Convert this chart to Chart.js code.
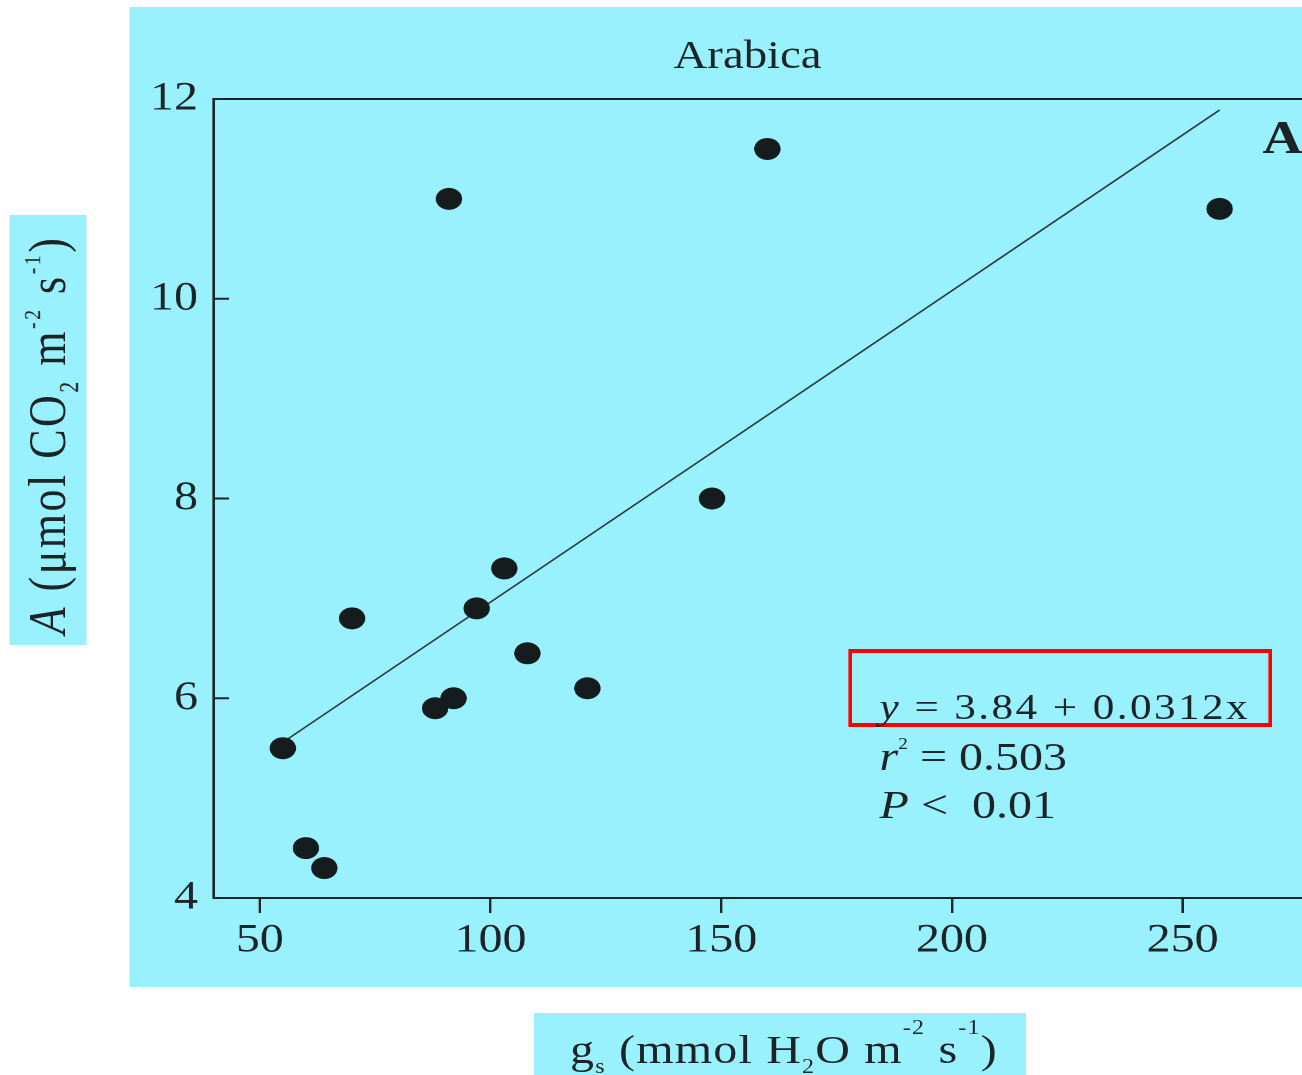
<!DOCTYPE html>
<html>
<head>
<meta charset="utf-8">
<script src="https://cdn.jsdelivr.net/npm/chart.js@4.4.1/dist/chart.umd.min.js"></script>
<style>
  html, body { margin: 0; padding: 0; overflow: hidden; background: #fff; }
  body { width: 1302px; height: 1075px; position: relative; }
  /* the source figure is stretched sideways, so the whole thing is drawn narrow and scaled */
  #wrap { position: absolute; left: 0; top: 0; width: 1085px; height: 1075px;
          transform: scaleX(1.2); transform-origin: 0 0;
          font-family: "Liberation Serif", "Times New Roman", serif; color: #1c2426; }
  .cyan { background: #99f1fd; }
  #panel { position: absolute; left: 107.5px; top: 7px; width: 1032px; height: 980px; }
  #ylab { position: absolute; left: 7.5px; top: 215px; width: 64px; height: 430px; }
  #ylabtext { position: absolute; left: 50%; top: 50%; white-space: nowrap; font-size: 44px; line-height: 1;
              letter-spacing: 2.5px; transform: translate(-50%, -50%) translateY(5px) rotate(-90deg); }
  #ylabtext .sup { font-size: 0.45em; top: -1.05em; }
  #xlab { position: absolute; left: 445px; top: 1013px; width: 410px; height: 70px; }
  #xlabtext { position: absolute; left: 30px; top: 16.5px; white-space: nowrap; font-size: 40px; line-height: 1;
              letter-spacing: 1px; }
  .sub { font-size: 0.5em; position: relative; top: 0.5em; }
  .sup { font-size: 0.5em; position: relative; top: -1.45em; }
  .sup2 { font-size: 0.4em; position: relative; top: -1.3em; }
  .txt { position: absolute; white-space: nowrap; line-height: 1; }
  #title { left: 523px; width: 200px; text-align: center; top: 34.5px; font-size: 39px; }
  #panelA { left: 1052px; top: 114.5px; font-size: 46px; font-weight: bold; }
  #box { position: absolute; left: 706.7px; top: 649px; width: 353.3px; height: 78px; box-sizing: border-box;
         border-style: solid; border-color: #ff0000; border-width: 4px 3.3px; }
  #eq1 { left: 733px; top: 689px; font-size: 36px; letter-spacing: 2px; }
  #eq2 { left: 733px; top: 736.5px; font-size: 40px; }
  #eq3 { left: 733px; top: 784.5px; font-size: 40px; }
</style>
</head>
<body>
<div id="wrap">
  <div id="ylab" class="cyan"><div id="ylabtext"><i>A</i> (μmol CO<span class="sub">2</span> m<span class="sup">-2</span> s<span class="sup">-1</span>)</div></div>
  <div id="panel" class="cyan"><canvas id="chart"></canvas></div>
  <div id="title" class="txt">Arabica</div>
  <div id="panelA" class="txt">A</div>
  <div id="box"></div>
  <div id="eq1" class="txt"><i>y</i> = 3.84 + 0.0312x</div>
  <div id="eq2" class="txt"><i>r</i><span class="sup2">2</span> = 0.503</div>
  <div id="eq3" class="txt"><i>P</i> &lt;&nbsp; 0.01</div>
  <div id="xlab" class="cyan"><div id="xlabtext">g<span class="sub">s</span> (mmol H<span class="sub">2</span>O m<span class="sup">-2</span> s<span class="sup">-1</span>)</div></div>
</div>
<script>
// stomatal conductance (x) vs net assimilation (y)
const gsValues = [55, 60, 64, 70, 88, 92, 97, 103, 108, 121, 91, 148, 160, 258];
const aValues = [5.5, 4.5, 4.3, 6.8, 5.9, 6.0, 6.9, 7.3, 6.45, 6.1, 11.0, 8.0, 11.5, 10.9];

// regression line end points
const fitX = [56, 258];
const fitY = [5.59, 11.89];

const xTicks = [50, 100, 150, 200, 250];
const yTicks = [4, 6, 8, 10, 12];

const ink = '#1c2426';

// top edge of the frame and the inward ticks on the left axis
const frame = {
  id: 'frame',
  afterDraw(chart) {
    const { ctx, chartArea } = chart;
    const y = chart.scales.y;
    ctx.save();
    ctx.strokeStyle = ink;
    ctx.lineWidth = 2;
    ctx.beginPath();
    ctx.moveTo(chartArea.left - 1, chartArea.top);
    ctx.lineTo(chart.width, chartArea.top);
    yTicks.forEach(v => {
      const py = y.getPixelForValue(v);
      ctx.moveTo(chartArea.left, py);
      ctx.lineTo(chartArea.left + 13, py);
    });
    ctx.stroke();
    ctx.restore();
  }
};

const ctx = document.getElementById('chart').getContext('2d');
new Chart(ctx, {
  type: 'scatter',
  data: {
    datasets: [
      {
        data: gsValues.map((x, i) => ({ x: x, y: aValues[i] })),
        backgroundColor: '#141c1e',
        borderWidth: 0,
        pointRadius: 11,
        pointHoverRadius: 11
      },
      {
        type: 'line',
        data: fitX.map((x, i) => ({ x: x, y: fitY[i] })),
        borderColor: '#2b3a3c',
        borderWidth: 1.5,
        pointRadius: 0,
        fill: false
      }
    ]
  },
  options: {
    responsive: true,
    maintainAspectRatio: false,
    animation: false,
    devicePixelRatio: 2,
    layout: { padding: { top: 92, left: 0, right: 0, bottom: 0 } },
    plugins: { legend: { display: false }, tooltip: { enabled: false }, title: { display: false } },
    scales: {
      x: {
        type: 'linear',
        min: 40,
        max: 287.3,
        afterBuildTicks: s => { s.ticks = xTicks.map(v => ({ value: v })); },
        afterFit: s => { s.height = 89; },
        grid: { display: true, drawOnChartArea: false, drawTicks: true, tickLength: 15, color: ink, lineWidth: 2 },
        border: { display: true, color: ink, width: 2 },
        ticks: { color: ink, padding: 4, maxRotation: 0, font: { family: 'Liberation Serif', size: 40 } }
      },
      y: {
        type: 'linear',
        min: 4,
        max: 12,
        afterBuildTicks: s => { s.ticks = yTicks.map(v => ({ value: v })); },
        afterFit: s => { s.width = 70; },
        grid: { display: false, drawTicks: false },
        border: { display: true, color: ink, width: 2 },
        ticks: { color: ink, padding: 13, font: { family: 'Liberation Serif', size: 40 } }
      }
    }
  },
  plugins: [frame]
});
</script>
</body>
</html>
